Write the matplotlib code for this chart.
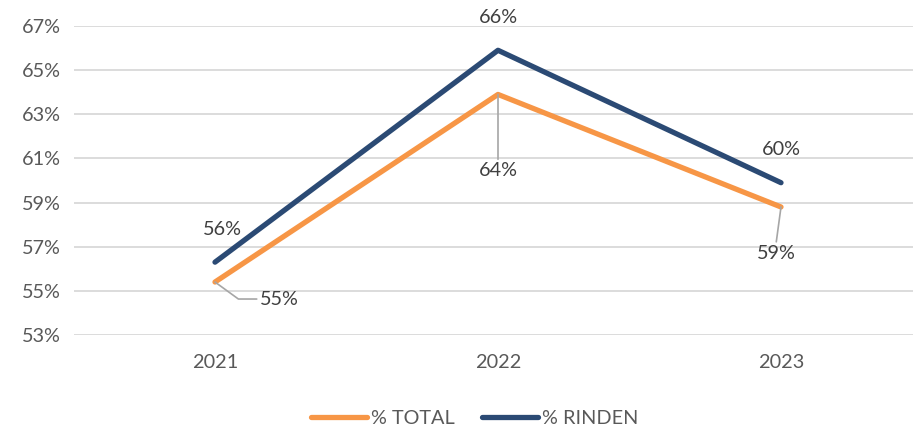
from matplotlib import pyplot as plt
from matplotlib.ticker import PercentFormatter

years = ['2021', '2022', '2023']
total = [55.4, 63.9, 58.8]
rinden = [56.3, 65.9, 59.9]
yticks = [53, 55, 57, 59, 61, 63, 65, 67]

orange = '#F79646'
navy = '#2B4A74'
txt = '#595959'

plt.rcParams['font.family'] = ['Lato', 'DejaVu Sans']

fig = plt.figure(figsize=(9.13, 4.33), dpi=100)
ax = fig.add_axes([73.5 / 913, 1 - 335 / 433, 849 / 913, 309 / 433])

x = range(len(years))
ax.plot(x, total, color=orange, lw=3.8, solid_capstyle='round', label='% TOTAL', zorder=3)
ax.plot(x, rinden, color=navy, lw=3.8, solid_capstyle='round', label='% RINDEN', zorder=3)

ax.set_xlim(-0.5, 2.5)
ax.set_ylim(53, 67)
ax.set_yticks(yticks)
ax.yaxis.set_major_formatter(PercentFormatter(decimals=0))
ax.set_xticks(list(x))
ax.set_xticklabels(years)
ax.tick_params(length=0, labelsize=14.3, colors=txt, pad=9)
ax.tick_params(axis='x', pad=14)
ax.grid(axis='y', color='#D9D9D9', lw=1.3)
ax.set_axisbelow(True)
for s in ax.spines.values():
    s.set_visible(False)

fs = 14.3
lead = dict(arrowstyle='-', color='#A6A6A6', lw=1.2, shrinkA=0, shrinkB=0)

# rinden labels (above)
ax.annotate(f'{rinden[0]:.0f}%', (0, rinden[0]), xytext=(0.025, 57.8),
            ha='center', va='center', fontsize=fs, color='#404040')
ax.annotate(f'{rinden[1]:.0f}%', (1, rinden[1]), xytext=(1, 67.4),
            ha='center', va='center', fontsize=fs, color='#404040')
ax.annotate(f'{rinden[2]:.0f}%', (2, rinden[2]), xytext=(2, 61.4),
            ha='center', va='center', fontsize=fs, color='#404040')

# total labels (below, with leader lines)
ax.annotate(f'{total[0]:.0f}%', (0, total[0]), xytext=(0.226, 54.63),
            ha='center', va='center', fontsize=fs, color='#404040',
            arrowprops=dict(lead, relpos=(0, 0.5),
                            connectionstyle='angle,angleA=0,angleB=-36,rad=0'))
ax.annotate(f'{total[1]:.0f}%', (1, total[1]), xytext=(1, 60.45),
            ha='center', va='center', fontsize=fs, color='#404040',
            arrowprops=dict(lead, relpos=(0.5, 1)))
ax.annotate(f'{total[2]:.0f}%', (2, total[2]), xytext=(1.982, 56.71),
            ha='center', va='center', fontsize=fs, color='#404040',
            arrowprops=dict(lead, relpos=(0.5, 1)))

leg = fig.legend(loc='center', bbox_to_anchor=(0.52, 1 - 418 / 433), ncol=2, frameon=False,
                 fontsize=14.3, handlelength=2.8, handletextpad=0.2, columnspacing=1.4)
for t in leg.get_texts():
    t.set_color(txt)

fig.savefig('out.png', dpi=100)
